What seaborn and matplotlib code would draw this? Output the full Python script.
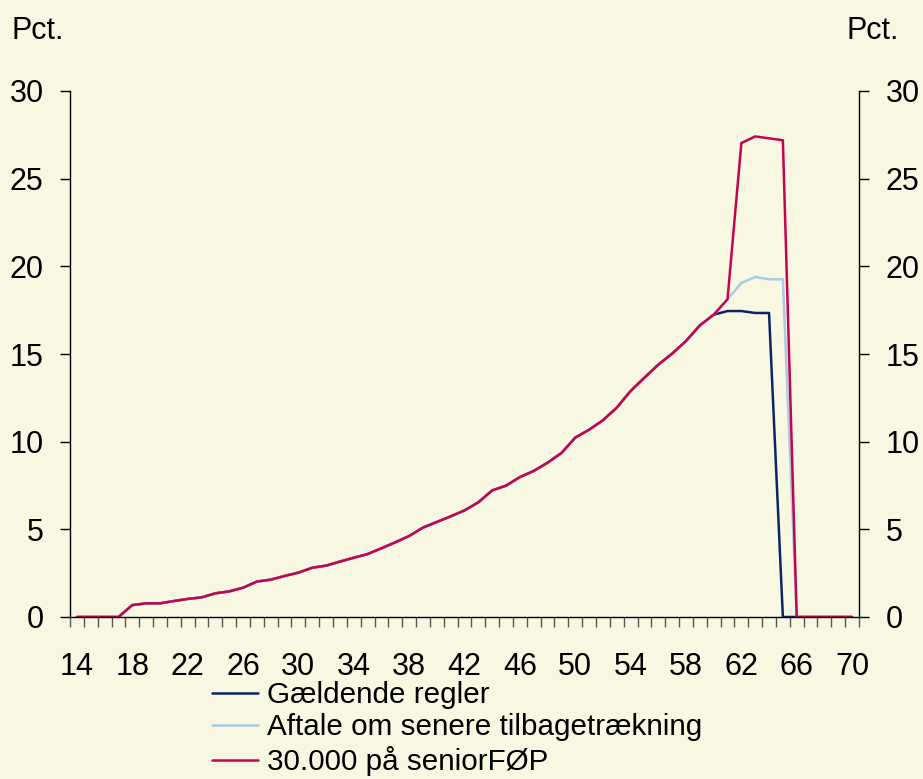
import numpy as np
import pandas as pd
import matplotlib
matplotlib.use("Agg")
import matplotlib.pyplot as plt
import seaborn as sns
from matplotlib.ticker import MultipleLocator, FixedLocator
from matplotlib.lines import Line2D

# ages 14..70
ages = list(range(14, 71))

# common part of the curve, ages 14..60
common = [0, 0, 0, 0, 0.68, 0.78, 0.78, 0.91, 1.03, 1.12,
          1.35, 1.46, 1.67, 2.02, 2.13, 2.34, 2.53, 2.81, 2.93, 3.16,
          3.38, 3.59, 3.92, 4.26, 4.62, 5.10, 5.42, 5.74, 6.08, 6.54,
          7.22, 7.49, 7.98, 8.33, 8.80, 9.35, 10.23, 10.68, 11.22, 11.94,
          12.89, 13.65, 14.39, 15.02, 15.74, 16.63, 17.24]

# ages 61..70
gaeldende_tail = [17.45, 17.45, 17.34, 17.34, 0, 0, 0, 0, 0, 0]
aftale_tail = [18.12, 19.05, 19.39, 19.26, 19.26, 0, 0, 0, 0, 0]
senior_tail = [18.12, 27.03, 27.41, 27.30, 27.19, 0, 0, 0, 0, 0]

gaeldende = common + gaeldende_tail
aftale = common + aftale_tail
senior = common + senior_tail

labels = ["Gældende regler", "Aftale om senere tilbagetrækning", "30.000 på seniorFØP"]
colors = ["#0B2466", "#A9CBE3", "#C4044F"]

df = pd.DataFrame({"age": ages * 3,
                   "value": gaeldende + aftale + senior,
                   "serie": [labels[0]] * len(ages) + [labels[1]] * len(ages) + [labels[2]] * len(ages)})

bg = "#F8F8E2"
sns.set_style("white")
plt.rcParams["font.family"] = ["Liberation Sans", "DejaVu Sans"]
plt.rcParams["text.color"] = "black"
plt.rcParams["xtick.color"] = "black"
plt.rcParams["ytick.color"] = "black"

fig = plt.figure(figsize=(9.23, 7.79), dpi=100, facecolor=bg)
ax = fig.add_axes([70 / 923, 1 - 617 / 779, (859 - 70) / 923, (617 - 91) / 779])
ax.set_facecolor(bg)

sns.lineplot(data=df, x="age", y="value", hue="serie", hue_order=labels,
             palette=colors, linewidth=1.8, ax=ax, legend=False)

ax.set_xlim(13.5, 70.5)
ax.set_ylim(0, 30)
ax.set_xlabel("")
ax.set_ylabel("")

ax.xaxis.set_major_locator(FixedLocator(list(range(14, 71, 4))))
ax.xaxis.set_minor_locator(FixedLocator([a - 0.5 for a in ages] + [70.5]))
ax.tick_params(axis="x", which="major", length=0, pad=25, labelsize=22)
ax.tick_params(axis="x", which="minor", length=7, width=1, color="#555555", direction="out", bottom=True)
ax.yaxis.set_major_locator(MultipleLocator(5))
ax.tick_params(axis="y", which="major", length=7, width=1, direction="out",
               left=True, right=True, labelleft=True, labelright=True, pad=12, labelsize=22)

for side in ["left", "right", "bottom"]:
    ax.spines[side].set_color("black")
    ax.spines[side].set_linewidth(1)
ax.spines["top"].set_visible(False)

fig.text(12 / 923, 1 - 31 / 779, "Pct.", ha="left", va="center", fontsize=22)
fig.text(899 / 923, 1 - 31 / 779, "Pct.", ha="right", va="center", fontsize=22)

# legend below the axis
handles = [Line2D([], [], color=c, linewidth=1.8) for c in colors]
fig.legend(handles, labels, loc="upper left", bbox_to_anchor=(212 / 923, 1 - 681 / 779),
           frameon=False, fontsize=21.3, handlelength=1.55, handletextpad=0.3,
           labelspacing=0.15, borderpad=0, borderaxespad=0)

fig.savefig("out.png", dpi=100, facecolor=bg)
